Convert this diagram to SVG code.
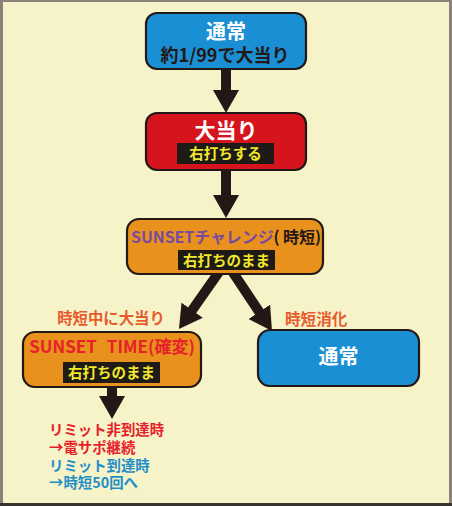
<svg xmlns="http://www.w3.org/2000/svg" width="452" height="506" viewBox="0 0 452 506">
<defs>
<marker id="ah" markerUnits="userSpaceOnUse" markerWidth="23" markerHeight="26" refX="1" refY="13" orient="auto" viewBox="0 0 23 26">
<path d="M0,0 L23,13 L0,26 z" fill="#231815"/>
</marker>
<style>
.bg{fill:#f6f3c9}
.node{stroke:#231815;stroke-width:2.2}
.blue{fill:#1b8fd3}
.red{fill:#d6141d}
.orange{fill:#e8921d}
.t{font-family:"Noto Sans CJK JP","Noto Sans",sans-serif;font-weight:bold;text-anchor:middle}
.tl{font-family:"Noto Sans CJK JP","Noto Sans",sans-serif;font-weight:bold}
.box{fill:#1e1a16}
.yel{fill:#f2e72d}
.conn line{stroke:#231815;stroke-width:10;marker-end:url(#ah)}
</style>
</defs>
<rect class="bg" x="0" y="0" width="452" height="506"/>
<rect x="0" y="0" width="452" height="2" fill="#8b8178"/>
<rect x="0" y="0" width="3" height="506" fill="#8b8178"/>
<rect x="449" y="0" width="3" height="506" fill="#8b8178"/>
<rect x="0" y="503" width="452" height="3" fill="#3a3430"/>

<g id="connectors" class="conn">
<line x1="226" y1="69" x2="226" y2="91"/>
<line x1="226" y1="170" x2="226" y2="196"/>
<line x1="226" y1="262" x2="191.6" y2="311"/>
<line x1="226" y1="262" x2="259.8" y2="312.7"/>
<line x1="112" y1="387" x2="112" y2="397"/>
</g>

<g id="node-normal-top">
<rect class="node blue" x="146" y="13" width="160" height="56" rx="11"/>
<text class="t" x="226" y="39" font-size="20" fill="#ffffff">通常</text>
<text class="t" x="225" y="62" font-size="18" fill="#231815">約1/99で大当り</text>
</g>

<g id="node-jackpot">
<rect class="node red" x="146" y="113" width="160" height="57" rx="11"/>
<text class="t" x="226" y="138" font-size="21" fill="#ffffff">大当り</text>
<rect class="box" x="177" y="143" width="97" height="21"/>
<text class="t yel" x="225.5" y="159" font-size="14.5">右打ちする</text>
</g>

<g id="node-challenge">
<rect class="node orange" x="127" y="219" width="196" height="55" rx="12"/>
<text class="t" x="226" y="243" font-size="16" textLength="190" lengthAdjust="spacing"><tspan fill="#7a4a9e">SUNSETチャレンジ</tspan><tspan fill="#231815">( 時短)</tspan></text>
<rect class="box" x="178" y="250" width="97" height="20"/>
<text class="t yel" x="226.5" y="265.5" font-size="14.5">右打ちのまま</text>
</g>

<g id="label-hit">
<text class="t" x="111" y="324" font-size="15.4" fill="#e85c2c">時短中に大当り</text>
</g>
<g id="label-end">
<text class="tl" x="285" y="325" font-size="15.6" fill="#e85c2c">時短消化</text>
</g>

<g id="node-sunset-time">
<rect class="node orange" x="23" y="332" width="178" height="55" rx="12"/>
<text class="t" x="112" y="353" font-size="17" fill="#e62129">SUNSET <tspan dx="6">TIME(確変)</tspan></text>
<rect class="box" x="63" y="362" width="97" height="21"/>
<text class="t yel" x="111.5" y="378" font-size="14.5">右打ちのまま</text>
</g>

<g id="node-normal-right">
<rect class="node blue" x="258" y="330" width="161" height="56" rx="12"/>
<text class="t" x="338.5" y="364" font-size="20" fill="#ffffff">通常</text>
</g>

<g id="notes">
<text class="tl" x="49" y="435" font-size="14.4"><tspan x="49" y="435" fill="#e62129">リミット非到達時</tspan><tspan x="49" y="453" fill="#e62129">→電サポ継続</tspan><tspan x="49" y="471" fill="#1f8fc8">リミット到達時</tspan><tspan x="49" y="488" fill="#1f8fc8">→時短50回へ</tspan></text>
</g>
</svg>
